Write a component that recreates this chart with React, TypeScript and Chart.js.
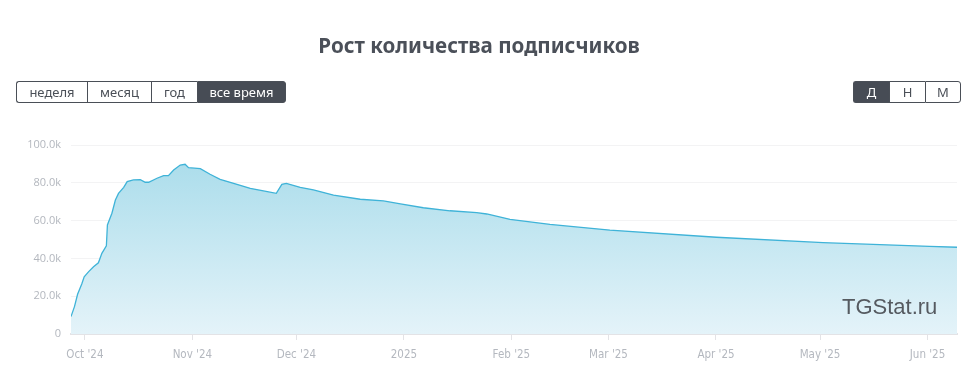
import React, { useEffect, useRef } from "react";
import { Chart, registerables } from "chart.js";

Chart.register(...registerables);

// Day index 0 = 27 Sep 2024
const dayIndex = [0, 1, 1.9, 3.1, 3.8, 5.1, 6.5, 7.9, 8.9, 10.2, 10.5, 11.8, 12.8, 13.7, 15.2, 16.2, 18, 20, 21.4, 22.4, 24.8, 26.7, 28.1, 29.6, 31.5, 32.9, 33.9, 37.3, 40.1, 43, 46.9, 51.7, 55.5, 59.2, 60.8, 62.1, 66.1, 69.9, 75.7, 83.4, 90.1, 95, 101.6, 109.3, 117, 119.9, 126.6, 138.1, 155.4, 186.1, 216.9, 247.6, 255.5];
const subscribers = [9200, 14500, 21000, 26500, 30300, 33000, 35600, 37700, 42700, 46600, 57700, 63900, 70900, 74400, 77600, 80600, 81500, 81600, 80300, 80300, 82400, 83800, 83800, 86800, 89400, 89800, 88000, 87500, 84500, 81800, 79700, 77100, 75700, 74400, 79200, 79700, 77600, 76200, 73500, 71300, 70400, 68800, 66800, 65200, 64200, 63500, 60700, 58000, 55000, 51200, 48300, 46400, 45900];

const monthTickDays = [4, 35, 65, 96, 127, 155, 186, 216, 247];
const monthTickLabels = ["Oct '24", "Nov '24", "Dec '24", "2025", "Feb '25", "Mar '25", "Apr '25", "May '25", "Jun '25"];
const yTicks = [0, 20000, 40000, 60000, 80000, 100000];

const periodButtons = ["неделя", "месяц", "год", "все время"];
const groupButtons = ["Д", "Н", "М"];

export default function App() {
  const ref = useRef<HTMLCanvasElement | null>(null);

  useEffect(() => {
    document.body.style.margin = "0";
    const canvas = ref.current!;
    const chart = new Chart(canvas, {
      type: "line",
      data: {
        datasets: [
          {
            data: dayIndex.map((d, i) => ({ x: d, y: subscribers[i] })),
            borderColor: "#3fb3d8",
            borderWidth: 1.3,
            pointRadius: 0,
            tension: 0,
            fill: "origin",
            backgroundColor: (ctx: any) => {
              const ca = ctx.chart.chartArea;
              if (!ca) return "rgba(170,220,235,0.8)";
              const g = ctx.chart.ctx.createLinearGradient(0, ca.top, 0, ca.bottom);
              g.addColorStop(0, "#a6dbea");
              g.addColorStop(1, "#e4f3f9");
              return g;
            },
          },
        ],
      },
      options: {
        animation: false,
        responsive: false,
        maintainAspectRatio: false,
        layout: { padding: { top: 145, right: 10, left: 0, bottom: 0 } },
        plugins: { legend: { display: false }, tooltip: { enabled: false } },
        scales: {
          x: {
            type: "linear",
            min: 0,
            max: 255.5,
            afterBuildTicks: (scale: any) => {
              scale.ticks = monthTickDays.map((v) => ({ value: v }));
            },
            afterFit: (scale: any) => {
              scale.height = 55;
            },
            ticks: {
              autoSkip: false,
              maxRotation: 0,
              padding: 8,
              color: "#b4b8bf",
              font: { family: "'DejaVu Sans Condensed', 'Liberation Sans Narrow', Roboto", size: 11.5 },
              callback: (v: any) => {
                const i = monthTickDays.indexOf(Number(v));
                return i >= 0 ? monthTickLabels[i] : "";
              },
            },
            grid: { drawOnChartArea: false, drawTicks: true, tickLength: 6, color: "#e3e3e6" },
            border: { color: "#e3e3e6", width: 2 },
          },
          y: {
            min: 0,
            max: 100000,
            afterBuildTicks: (scale: any) => {
              scale.ticks = yTicks.map((v) => ({ value: v }));
            },
            afterFit: (scale: any) => {
              scale.width = 71;
            },
            ticks: {
              padding: 10,
              color: "#b3b7be",
              font: { family: "'Open Sans', 'Noto Sans'", size: 11 },
              callback: (v: any) => (Number(v) === 0 ? "0" : (Number(v) / 1000).toFixed(1) + "k"),
            },
            grid: { color: "#f3f3f4", drawTicks: false },
            border: { display: false },
          },
        },
      },
    } as any);
    return () => chart.destroy();
  }, []);

  const btnBase: React.CSSProperties = {
    height: 22,
    boxSizing: "border-box",
    display: "flex",
    alignItems: "center",
    justifyContent: "center",
    fontFamily: "'Noto Sans', 'Open Sans', sans-serif",
    fontSize: 13,
    color: "#4a4f57",
    background: "#fff",
    borderTop: "1px solid #4a4f57",
    borderBottom: "1px solid #4a4f57",
    borderLeft: "1px solid #4a4f57",
  };
  const periodWidths = [71, 64, 46, 89];
  const groupWidths = [36, 36, 36];

  return (
    <div style={{ position: "relative", width: 967, height: 389, background: "#fff", overflow: "hidden" }}>
      <canvas ref={ref} width={967} height={389} style={{ position: "absolute", left: 0, top: 0 }} />
      <div
        style={{
          position: "absolute",
          left: 0,
          width: 958,
          top: 30,
          textAlign: "center",
          fontFamily: "'Noto Sans', 'Open Sans', sans-serif",
          fontWeight: 700,
          fontSize: 20.6,
          color: "#4b5059",
          lineHeight: "30px",
        }}
      >
        Рост количества подписчиков
      </div>
      <div style={{ position: "absolute", left: 16, top: 81, display: "flex" }}>
        {periodButtons.map((b, i) => {
          const active = i === periodButtons.length - 1;
          return (
            <div
              key={b}
              style={{
                ...btnBase,
                width: periodWidths[i],
                background: active ? "#474c55" : "#fff",
                color: active ? "#fff" : "#4a4f57",
                borderRight: i === periodButtons.length - 1 ? "1px solid #4a4f57" : "none",
                borderRadius: i === 0 ? "3px 0 0 3px" : i === periodButtons.length - 1 ? "0 3px 3px 0" : 0,
              }}
            >
              {b}
            </div>
          );
        })}
      </div>
      <div style={{ position: "absolute", left: 853, top: 81, display: "flex" }}>
        {groupButtons.map((b, i) => {
          const active = i === 0;
          return (
            <div
              key={b}
              style={{
                ...btnBase,
                width: groupWidths[i],
                background: active ? "#474c55" : "#fff",
                color: active ? "#fff" : "#4a4f57",
                borderRight: i === groupButtons.length - 1 ? "1px solid #4a4f57" : "none",
                borderRadius: i === 0 ? "3px 0 0 3px" : i === groupButtons.length - 1 ? "0 3px 3px 0" : 0,
              }}
            >
              {b}
            </div>
          );
        })}
      </div>
      <div
        style={{
          position: "absolute",
          left: 842,
          top: 294,
          fontFamily: "'Liberation Sans', Arial, sans-serif",
          fontSize: 22,
          color: "#555a60",
          lineHeight: "26px",
        }}
      >
        TGStat.ru
      </div>
    </div>
  );
}
